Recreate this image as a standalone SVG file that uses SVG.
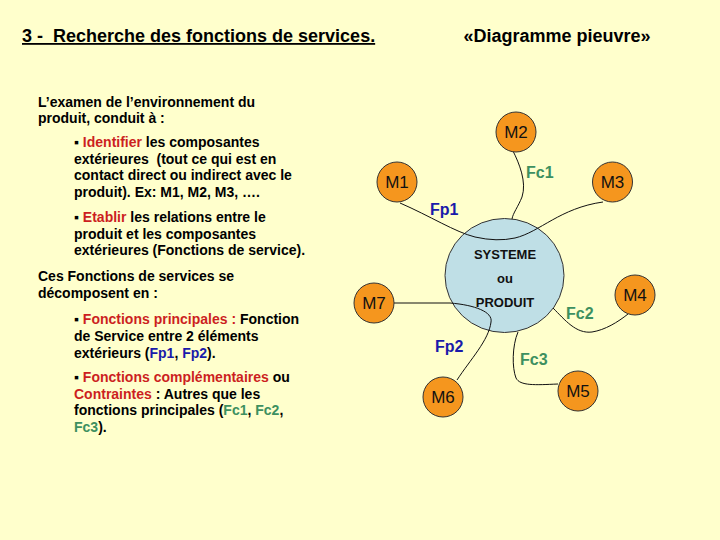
<svg xmlns="http://www.w3.org/2000/svg" width="720" height="540" viewBox="0 0 720 540">
<style>
.t{font-family:"Liberation Sans",Arial,sans-serif;font-weight:bold;font-size:14px;fill:#000}
.r{fill:#CC1F1F}
.b{fill:#1A1AAA}
.g{fill:#3D9060}
.node circle{fill:#F5961E;stroke:#333;stroke-width:1}
.node text{font-family:"Liberation Sans",Arial,sans-serif;font-size:17px;fill:#111;text-anchor:middle}
.conn path{fill:none;stroke:#111;stroke-width:1}
.lab{font-family:"Liberation Sans",Arial,sans-serif;font-weight:bold;font-size:16px}
.sys{font-family:"Liberation Sans",Arial,sans-serif;font-weight:bold;font-size:13px;fill:#111;text-anchor:middle}
</style>
<rect width="720" height="540" fill="#FFFFCC"/>
<text x="22" y="42" font-family="Liberation Sans,Arial,sans-serif" font-weight="bold" font-size="18" text-decoration="underline" xml:space="preserve">3 -  Recherche des fonctions de services.</text>
<text x="557" y="42" font-family="Liberation Sans,Arial,sans-serif" font-weight="bold" font-size="18" text-anchor="middle">«Diagramme pieuvre»</text>

<g id="left-text">
<text class="t" x="38" y="106.5">L’examen de l’environnement du</text>
<text class="t" x="38" y="123">produit, conduit à :</text>
<text class="t" x="74" y="147">▪ <tspan class="r">Identifier</tspan> les composantes</text>
<text class="t" x="74" y="163.5" xml:space="preserve">extérieures  (tout ce qui est en</text>
<text class="t" x="74" y="180">contact direct ou indirect avec le</text>
<text class="t" x="74" y="196.5">produit). Ex: M1, M2, M3, ….</text>
<text class="t" x="74" y="222">▪ <tspan class="r">Etablir</tspan> les relations entre le</text>
<text class="t" x="74" y="238.5">produit et les composantes</text>
<text class="t" x="74" y="255">extérieures (Fonctions de service).</text>
<text class="t" x="38" y="281">Ces Fonctions de services se</text>
<text class="t" x="38" y="297.5">décomposent en :</text>
<text class="t" x="74" y="324">▪ <tspan class="r">Fonctions principales :</tspan> Fonction</text>
<text class="t" x="74" y="341">de Service entre 2 éléments</text>
<text class="t" x="74" y="357.5">extérieurs (<tspan class="b">Fp1</tspan>, <tspan class="b">Fp2</tspan>).</text>
<text class="t" x="74" y="382">▪ <tspan class="r">Fonctions complémentaires</tspan> ou</text>
<text class="t" x="74" y="398.5"><tspan class="r">Contraintes</tspan> : Autres que les</text>
<text class="t" x="74" y="415">fonctions principales (<tspan class="g">Fc1</tspan>, <tspan class="g">Fc2</tspan>,</text>
<text class="t" x="74" y="432"><tspan class="g">Fc3</tspan>).</text>
</g>

<g id="systeme">
<ellipse cx="504.5" cy="275.5" rx="59.5" ry="57" fill="#BFDFE6" stroke="#333" stroke-width="1"/>
<text class="sys" x="505" y="259">SYSTEME</text>
<text class="sys" x="505" y="283">ou</text>
<text class="sys" x="505" y="307">PRODUIT</text>
</g>

<g id="connectors" class="conn">
<path d="M513,151 C519,163 527,182 522,197 C518,207 513,213 512,219"/>
<path d="M400,203 C430,216 455,232 475,237 Q497,242 515,238 C540,232 560,208 603,202"/>
<path d="M394,303 L450,303 C475,305 493,312 491,322 C489,340 470,360 457,380"/>
<path d="M553,308 C565,320 576,334 592,332 C605,330 618,322 628,314"/>
<path d="M518,332 C512,346 512,368 516,378 C520,386 535,385 558,384"/>
</g>

<g id="labels" class="lab">
<text class="b" x="430" y="215">Fp1</text>
<text class="g" x="526" y="178">Fc1</text>
<text class="b" x="435" y="352">Fp2</text>
<text class="g" x="566" y="319">Fc2</text>
<text class="g" x="520" y="365">Fc3</text>
</g>

<g id="M1" class="node"><circle cx="397" cy="182" r="20"/><text x="397" y="188">M1</text></g>
<g id="M2" class="node"><circle cx="516" cy="132" r="20"/><text x="516" y="138">M2</text></g>
<g id="M3" class="node"><circle cx="612.5" cy="182" r="20"/><text x="612.5" y="188">M3</text></g>
<g id="M4" class="node"><circle cx="635" cy="295" r="20"/><text x="635" y="301">M4</text></g>
<g id="M5" class="node"><circle cx="578" cy="391" r="20"/><text x="578" y="397">M5</text></g>
<g id="M6" class="node"><circle cx="443" cy="397" r="20"/><text x="443" y="403">M6</text></g>
<g id="M7" class="node"><circle cx="374" cy="303" r="20"/><text x="374" y="309">M7</text></g>
</svg>
